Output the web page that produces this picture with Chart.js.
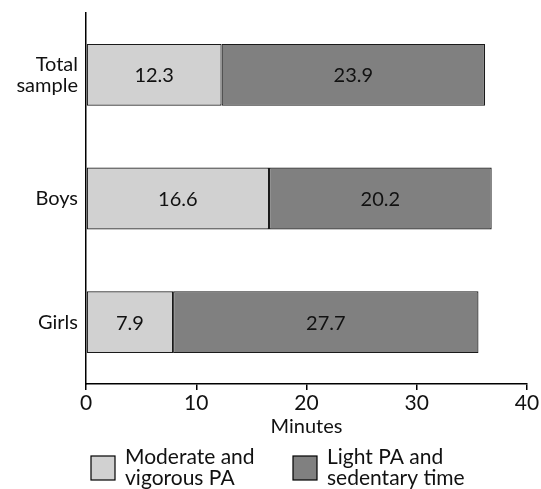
<!DOCTYPE html>
<html>
<head>
<meta charset="utf-8">
<script src="https://cdn.jsdelivr.net/npm/chart.js@4/dist/chart.umd.min.js"></script>
<style>
  html, body { margin: 0; padding: 0; background: #fff; }
  #wrap { width: 541px; height: 489px; position: relative; }
</style>
</head>
<body>
<div id="wrap"><canvas id="chart" width="541" height="489"></canvas></div>
<script>
const categories = [['Total', 'sample'], 'Boys', 'Girls'];
const mvpa = [12.3, 16.6, 7.9];
const lightSed = [23.9, 20.2, 27.7];
const seriesNames = [['Moderate and', 'vigorous PA'], ['Light PA and', 'sedentary time']];
const xTicks = [0, 10, 20, 30, 40];

const FONT = 'Lato, "Open Sans", sans-serif';

// numbers written in the middle of each bar piece
const barLabels = {
  id: 'barLabels',
  afterDatasetsDraw(chart) {
    const ctx = chart.ctx;
    ctx.save();
    ctx.font = '20px ' + FONT;
    ctx.fillStyle = '#111';
    ctx.textAlign = 'center';
    ctx.textBaseline = 'middle';
    chart.data.datasets.forEach((ds, i) => {
      chart.getDatasetMeta(i).data.forEach((bar, j) => {
        const p = bar.getProps(['x', 'y', 'base'], true);
        ctx.fillText(ds.data[j].toFixed(1), (p.x + p.base) / 2, p.y + 1);
      });
    });
    ctx.restore();
  }
};

// legend under the axis title, two-line labels
const bottomLegend = {
  id: 'bottomLegend',
  afterDraw(chart) {
    const ctx = chart.ctx;
    const spots = [91, 293];
    ctx.save();
    ctx.font = '21px ' + FONT;
    ctx.textBaseline = 'middle';
    ctx.textAlign = 'left';
    chart.data.datasets.forEach((ds, i) => {
      const x = spots[i];
      ctx.fillStyle = ds.backgroundColor;
      ctx.fillRect(x, 456, 24, 24);
      ctx.strokeStyle = '#000';
      ctx.lineWidth = 1.2;
      ctx.strokeRect(x, 456, 24, 24);
      ctx.fillStyle = '#111';
      ds.label.forEach((line, k) => ctx.fillText(line, x + 34, 457 + k * 21));
    });
    ctx.restore();
  }
};

new Chart(document.getElementById('chart'), {
  type: 'bar',
  data: {
    labels: categories,
    datasets: [
      { label: seriesNames[0], data: mvpa, backgroundColor: '#d1d1d1', borderColor: '#1a1a1a', borderWidth: 1.2, borderSkipped: false, barPercentage: 0.5, categoryPercentage: 1 },
      { label: seriesNames[1], data: lightSed, backgroundColor: '#808080', borderColor: '#1a1a1a', borderWidth: 1.2, borderSkipped: false, barPercentage: 0.5, categoryPercentage: 1 }
    ]
  },
  options: {
    indexAxis: 'y',
    responsive: false,
    animation: false,
    layout: { padding: { top: 13, right: 14, bottom: 50, left: 0 } },
    plugins: { legend: { display: false }, tooltip: { enabled: false } },
    scales: {
      x: {
        stacked: true,
        min: 0, max: 40,
        afterBuildTicks: (s) => { s.ticks = xTicks.map(v => ({ value: v })); },
        afterFit: (s) => { s.height = 55; },
        border: { color: '#000', width: 1.5 },
        grid: { drawOnChartArea: false, color: '#000', tickLength: 6, lineWidth: 1.5 },
        ticks: { color: '#111', font: { family: FONT, size: 21 }, padding: 1, maxRotation: 0 },
        title: { display: true, text: 'Minutes', color: '#111', font: { family: FONT, size: 20 }, padding: { top: 0, bottom: 0 } }
      },
      y: {
        stacked: true,
        afterFit: (s) => { s.width = 86; },
        border: { color: '#000', width: 1.5 },
        grid: { display: false },
        ticks: { color: '#111', font: { family: FONT, size: 20, lineHeight: 1.05 }, padding: 0 }
      }
    }
  },
  plugins: [barLabels, bottomLegend]
});
</script>
</body>
</html>
